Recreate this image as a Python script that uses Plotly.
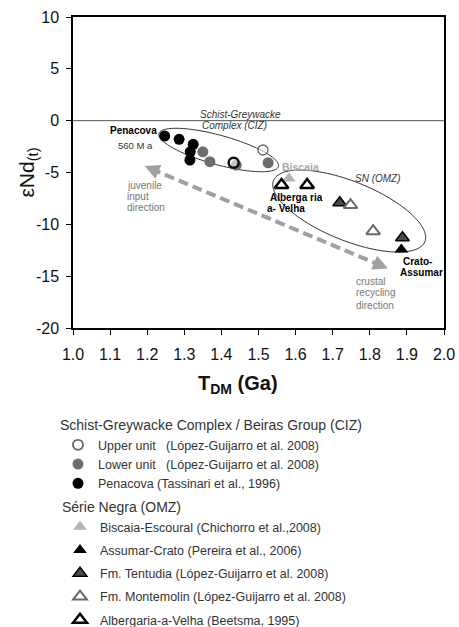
import numpy as np
import plotly.graph_objects as go

# ---------------- data ----------------
upper_t = [1.512, 1.433]
upper_e = [-2.83, -4.06]
lower_t = [1.350, 1.369, 1.440, 1.526]
lower_e = [-3.00, -3.96, -4.28, -4.06]
pen_t = [1.247, 1.286, 1.324, 1.316, 1.315]
pen_e = [-1.48, -1.80, -2.28, -3.00, -3.80]

bis_t = [1.582]
bis_e = [-5.57]
ass_t = [1.885]
ass_e = [-12.43]
ten_t = [1.719, 1.888]
ten_e = [-7.92, -11.30]
mon_t = [1.748, 1.809]
mon_e = [-8.14, -10.66]
alb_t = [1.562, 1.631]
alb_e = [-6.21, -6.21]

x_ticks = [1.0, 1.1, 1.2, 1.3, 1.4, 1.5, 1.6, 1.7, 1.8, 1.9, 2.0]
y_ticks = [10, 5, 0, -5, -10, -15, -20]

# field ellipses: centre (T, eps), semi-axes (px), rotation (deg, clockwise)
ciz_ellipse = [1.3927, -2.83, 62.0, 14.7, 15.4]
omz_ellipse = [1.7445, -8.72, 81.6, 29.5, 22.0]
# trend arrow end points (T, eps)
arrow_t = [1.193, 1.849]
arrow_e = [-4.38, -14.26]

FONT = "Liberation Sans, Arial, sans-serif"
W, H = 459, 627
ML, MR, MT, MB = 73, 15, 17, 299
PW, PH = W - ML - MR, H - MT - MB
PXX = PW / (x_ticks[-1] - x_ticks[0])
PXY = PH / (y_ticks[0] - y_ticks[-1])


def px_to_paper_x(px):
    return (px - ML) / PW


def px_to_paper_y(py):
    return (PH + MT - py) / PH


def ellipse_path(p, n=120):
    tc, ec, a, b, deg = p
    th = np.radians(deg)
    s = np.linspace(0, 2 * np.pi, n)
    dx = a * np.cos(s) * np.cos(th) - b * np.sin(s) * np.sin(th)
    dy = a * np.cos(s) * np.sin(th) + b * np.sin(s) * np.cos(th)
    T = tc + dx / PXX
    E = ec - dy / PXY
    pts = [f"{t:.5f},{e:.5f}" for t, e in zip(T, E)]
    return "M " + " L ".join(pts) + " Z"


fig = go.Figure()

# --- CIZ (circles) ---
fig.add_trace(go.Scatter(
    x=pen_t, y=pen_e, mode="markers", name="Penacova (Tassinari et al., 1996)",
    legend="legend", legendrank=3,
    marker=dict(symbol="circle", size=11, color="#000000", line=dict(width=0))))
fig.add_trace(go.Scatter(
    x=lower_t, y=lower_e, mode="markers",
    name="Lower unit\u00a0\u00a0 (López-Guijarro et al. 2008)",
    legend="legend", legendrank=2,
    marker=dict(symbol="circle", size=11, color="#6e6e6e", line=dict(width=0))))
fig.add_trace(go.Scatter(
    x=upper_t, y=upper_e, mode="markers",
    name="Upper unit\u00a0\u00a0 (López-Guijarro et al. 2008)",
    legend="legend", legendrank=1,
    marker=dict(symbol="circle", size=10, color="rgba(255,255,255,0.6)",
                line=dict(width=[1.3, 2.5], color=["#666666", "#111111"]))))

# --- OMZ (triangles) ---
fig.add_trace(go.Scatter(
    x=bis_t, y=bis_e, mode="markers", name="Biscaia-Escoural (Chichorro et al.,2008)",
    legend="legend2", legendgroup="g1", legendrank=1,
    marker=dict(symbol="triangle-up", size=12, color="#b4b4b4", line=dict(width=0))))
fig.add_trace(go.Scatter(
    x=ten_t, y=ten_e, mode="markers", name="Fm. Tentudia (López-Guijarro et al. 2008)",
    legend="legend2", legendgroup="g3", legendrank=3,
    marker=dict(symbol="triangle-up", size=12, color="#4a4a4a",
                line=dict(width=1.5, color="#000000"))))
fig.add_trace(go.Scatter(
    x=ass_t, y=ass_e, mode="markers", name="Assumar-Crato (Pereira et al., 2006)",
    legend="legend2", legendgroup="g2", legendrank=2,
    marker=dict(symbol="triangle-up", size=12, color="#000000", line=dict(width=0))))
fig.add_trace(go.Scatter(
    x=mon_t, y=mon_e, mode="markers", name="Fm. Montemolin (López-Guijarro et al. 2008)",
    legend="legend2", legendgroup="g4", legendrank=4,
    marker=dict(symbol="triangle-up", size=12, color="#ffffff",
                line=dict(width=2, color="#6a6a6a"))))
fig.add_trace(go.Scatter(
    x=alb_t, y=alb_e, mode="markers", name="Albergaria-a-Velha (Beetsma, 1995)",
    legend="legend2", legendgroup="g5", legendrank=5,
    marker=dict(symbol="triangle-up", size=12, color="#ffffff",
                line=dict(width=2.5, color="#000000"))))

# trend arrow geometry (pixel direction)
dxp = (arrow_t[1] - arrow_t[0]) * PXX
dyp = (arrow_e[0] - arrow_e[1]) * PXY
L = float(np.hypot(dxp, dyp))
ux, uy = dxp / L, dyp / L

shapes = [
    dict(type="line", xref="paper", yref="y", x0=0, x1=1, y0=0, y1=0,
         line=dict(color="#555555", width=1), layer="below"),
    dict(type="path", xref="x", yref="y", path=ellipse_path(ciz_ellipse),
         line=dict(color="#333333", width=1), layer="below"),
    dict(type="path", xref="x", yref="y", path=ellipse_path(omz_ellipse),
         line=dict(color="#333333", width=1), layer="below"),
    dict(type="line", xref="x", yref="y",
         x0=arrow_t[0] + 7 * ux / PXX, y0=arrow_e[0] - 7 * uy / PXY,
         x1=arrow_t[1] - 7 * ux / PXX, y1=arrow_e[1] + 7 * uy / PXY,
         line=dict(color="#a0a0a0", width=4, dash="10px,5px"), layer="below"),
]

anns = [
    dict(x=arrow_t[0], y=arrow_e[0], xref="x", yref="y", text="",
         showarrow=True, ax=12 * ux, ay=12 * uy, arrowhead=2, arrowsize=1,
         arrowwidth=3, arrowcolor="#a0a0a0", standoff=0),
    dict(x=arrow_t[1], y=arrow_e[1], xref="x", yref="y", text="",
         showarrow=True, ax=-12 * ux, ay=-12 * uy, arrowhead=2, arrowsize=1,
         arrowwidth=3, arrowcolor="#a0a0a0", standoff=0),
]


def txt(t, x, y, size=10, color="#222222", anchor="center", italic=False, bold=False):
    s = t
    if bold:
        s = f"<b>{s}</b>"
    if italic:
        s = f"<i>{s}</i>"
    anns.append(dict(x=x, y=y, xref="x", yref="y", text=s, showarrow=False,
                     xanchor=anchor, yanchor="middle",
                     font=dict(family=FONT, size=size, color=color)))


txt("Schist-Greywacke", 1.3367, 0.55, 10, "#333333", "left", italic=True)
txt("Complex (CIZ)", 1.3416, -0.46, 10, "#333333", "left", italic=True)
txt("Penacova", 1.1639, -0.97, 10, "#000000", bold=True)
txt("560 M a", 1.168, -2.35, 9.5, "#333333")
txt("Biscaia", 1.613, -4.47, 10.5, "#aaaaaa", bold=True)
txt("SN (OMZ)", 1.822, -5.54, 10, "#333333", italic=True)
txt("Alberga ria", 1.602, -7.37, 10, "#000000", bold=True)
txt("a- Velha", 1.575, -8.43, 10, "#000000", bold=True)
txt("Crato-", 1.929, -13.62, 10, "#000000", bold=True)
txt("Assumar", 1.939, -14.62, 10, "#000000", bold=True)
txt("juvenile", 1.1396, -6.21, 10, "#777777", "left")
txt("input", 1.1396, -7.28, 10, "#777777", "left")
txt("direction", 1.1396, -8.34, 10, "#777777", "left")
txt("crustal", 1.7566, -15.49, 10, "#777777", "left")
txt("recycling", 1.7566, -16.55, 10, "#777777", "left")
txt("direction", 1.7566, -17.81, 10, "#777777", "left")

# axis titles
anns.append(dict(x=px_to_paper_x(27), y=0.5, xref="paper", yref="paper",
                 text="εNd<sub>(t)</sub>", textangle=-90, showarrow=False,
                 xanchor="center", yanchor="middle",
                 font=dict(family=FONT, size=21, color="#111111")))
anns.append(dict(x=px_to_paper_x(238), y=px_to_paper_y(384), xref="paper", yref="paper",
                 text="<b>T<sub>DM</sub> (Ga)</b>", showarrow=False,
                 xanchor="center", yanchor="middle",
                 font=dict(family=FONT, size=20, color="#111111")))

fig.update_layout(
    width=W, height=H,
    margin=dict(l=ML, r=MR, t=MT, b=MB, pad=0, autoexpand=False),
    paper_bgcolor="white", plot_bgcolor="white",
    font=dict(family=FONT, color="#222222"),
    shapes=shapes, annotations=anns,
    xaxis=dict(range=[x_ticks[0], x_ticks[-1]], tickvals=x_ticks,
               ticktext=[f"{v:.1f}" for v in x_ticks],
               ticks="outside", ticklen=5, tickwidth=1, tickcolor="#000",
               ticklabelstandoff=6,
               showline=True, linecolor="#000", linewidth=1.5, mirror=True,
               showgrid=False, zeroline=False,
               tickfont=dict(family=FONT, size=16, color="#111111")),
    yaxis=dict(range=[y_ticks[-1], y_ticks[0]], tickvals=y_ticks,
               ticktext=[str(v) for v in y_ticks],
               ticks="outside", ticklen=5, tickwidth=1, tickcolor="#000",
               ticklabelstandoff=4,
               showline=True, linecolor="#000", linewidth=1.5, mirror=True,
               showgrid=False, zeroline=False,
               tickfont=dict(family=FONT, size=16, color="#111111")),
    legend=dict(x=px_to_paper_x(58), y=px_to_paper_y(412), xanchor="left", yanchor="top",
                title=dict(text="Schist-Greywacke Complex / Beiras Group (CIZ)",
                           font=dict(family=FONT, size=14, color="#333333")),
                font=dict(family=FONT, size=12.5, color="#333333"),
                bgcolor="rgba(0,0,0,0)", tracegroupgap=0, traceorder="normal"),
    legend2=dict(x=px_to_paper_x(60), y=px_to_paper_y(494), xanchor="left", yanchor="top",
                 title=dict(text="Série Negra (OMZ)",
                            font=dict(family=FONT, size=14, color="#333333")),
                 font=dict(family=FONT, size=12.5, color="#333333"),
                 bgcolor="rgba(0,0,0,0)", tracegroupgap=4, traceorder="grouped"),
)

fig.write_html("out.html", config={"displayModeBar": False},
               post_script="document.body.style.margin='0';")
